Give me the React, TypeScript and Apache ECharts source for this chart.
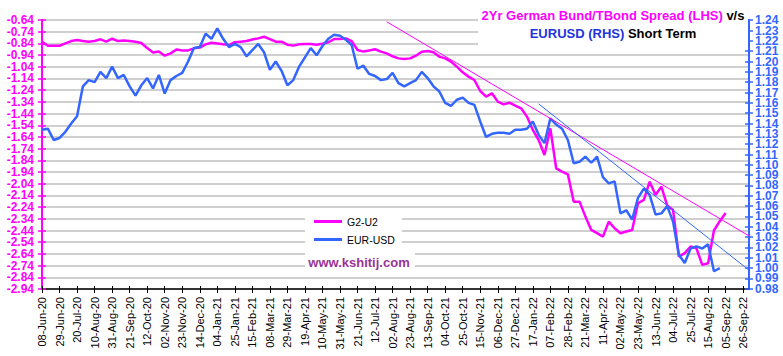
import React, { useEffect, useRef } from 'react';
import * as echarts from 'echarts';

const START_DATE = Date.UTC(2020, 5, 8);
const WEEK_COUNT = 122;
const MONTHS = ['Jan', 'Feb', 'Mar', 'Apr', 'May', 'Jun', 'Jul', 'Aug', 'Sep', 'Oct', 'Nov', 'Dec'];

const categories: string[] = [];
for (let i = 0; i < WEEK_COUNT; i++) {
  const d = new Date(START_DATE + i * 7 * 86400000);
  categories.push(
    `${String(d.getUTCDate()).padStart(2, '0')}-${MONTHS[d.getUTCMonth()]}-${String(d.getUTCFullYear()).slice(2)}`
  );
}

const spreadTicks = [
  -2.94, -2.84, -2.74, -2.64, -2.54, -2.44, -2.34, -2.24, -2.14, -2.04, -1.94, -1.84,
  -1.74, -1.64, -1.54, -1.44, -1.34, -1.24, -1.14, -1.04, -0.94, -0.84, -0.74, -0.64,
];
const eurTicks = [
  0.98, 0.99, 1.0, 1.01, 1.02, 1.03, 1.04, 1.05, 1.06, 1.07, 1.08, 1.09, 1.1, 1.11,
  1.12, 1.13, 1.14, 1.15, 1.16, 1.17, 1.18, 1.19, 1.2, 1.21, 1.22, 1.23, 1.24,
];
// labels are split across two overlaid axes so ECharts does not auto-hide crowded ones
const spreadLabelsA = spreadTicks.filter((_, i) => i % 2 === 0);
const spreadLabelsB = spreadTicks.filter((_, i) => i % 2 === 1);
const eurLabelsA = eurTicks.filter((_, i) => i % 2 === 0);
const eurLabelsB = eurTicks.filter((_, i) => i % 2 === 1);

// G2-U2 : 2Yr German Bund - 2Yr US Treasury spread (weekly readings)
const spreadG2U2 = [
  -0.825, -0.86, -0.86, -0.86, -0.84, -0.82, -0.81, -0.82, -0.825, -0.82,
  -0.805, -0.825, -0.8, -0.82, -0.815, -0.82, -0.825, -0.836, -0.88, -0.917,
  -0.91, -0.945, -0.925, -0.893, -0.9, -0.9, -0.882, -0.876, -0.848, -0.834,
  -0.84, -0.848, -0.854, -0.83, -0.825, -0.82, -0.806, -0.797, -0.783, -0.803,
  -0.825, -0.825, -0.851, -0.859, -0.848, -0.845, -0.845, -0.851, -0.842, -0.83,
  -0.803, -0.803, -0.797, -0.82, -0.896, -0.91, -0.9, -0.89, -0.91, -0.925,
  -0.95, -0.968, -0.973, -0.968, -0.945, -0.911, -0.905, -0.916, -0.953, -0.968,
  -0.996, -1.039, -1.087, -1.124, -1.153, -1.247, -1.295, -1.267, -1.338, -1.361,
  -1.347, -1.372, -1.395, -1.466, -1.58, -1.666, -1.794, -1.566, -1.908, -1.936,
  -1.96, -2.193, -2.193, -2.321, -2.435, -2.463, -2.492, -2.364, -2.421, -2.463,
  -2.449, -2.435, -2.207, -2.178, -2.022, -2.136, -2.065, -2.227, -2.264, -2.663,
  -2.634, -2.577, -2.592, -2.734, -2.72, -2.44, -2.36, -2.29,
];

// EUR-USD (weekly readings)
const eurUsd = [
  1.134, 1.135, 1.124, 1.126, 1.132, 1.14, 1.147, 1.176, 1.182, 1.18,
  1.19, 1.184, 1.195, 1.184, 1.187, 1.176, 1.167, 1.177, 1.184, 1.174,
  1.187, 1.169, 1.182, 1.186, 1.189, 1.2, 1.213, 1.214, 1.227, 1.222,
  1.232, 1.222, 1.214, 1.217, 1.214, 1.205, 1.211, 1.217, 1.209, 1.192,
  1.2, 1.191, 1.177, 1.182, 1.195, 1.204, 1.213, 1.206, 1.215, 1.222,
  1.226, 1.225, 1.221, 1.216, 1.193, 1.196, 1.188, 1.186, 1.182, 1.183,
  1.189, 1.179, 1.176, 1.179, 1.182, 1.19, 1.184, 1.176, 1.171, 1.16,
  1.157, 1.163, 1.165, 1.16, 1.158, 1.142, 1.127, 1.13, 1.131, 1.131,
  1.13, 1.134, 1.134, 1.135, 1.142, 1.129, 1.121, 1.145, 1.139, 1.135,
  1.124, 1.1015, 1.103, 1.108, 1.102, 1.108, 1.088, 1.082, 1.084, 1.053,
  1.056, 1.047, 1.068, 1.077, 1.071, 1.052, 1.053, 1.06, 1.045, 1.013,
  1.005, 1.019, 1.021, 1.019, 1.023, 0.997, 1.0,
];

// trend lines: [week index, value]
const spreadTrend = [
  [59, -0.655],
  [121, -2.486],
];
const eurTrend = [
  [85, 1.159],
  [121, 0.998],
];

const FONT = 'Arial, "Liberation Sans", sans-serif';
const MAGENTA = '#FF00FF';
const BLUE = '#3366FF';

export default function App() {
  const ref = useRef<HTMLDivElement>(null);

  useEffect(() => {
    if (!ref.current) return;
    const chart = echarts.init(ref.current, undefined, { renderer: 'svg' });

    const yLeftBase = {
      type: 'value',
      position: 'left',
      min: -2.9402,
      max: -0.6398,
      scale: true,
    };
    const yRightBase = {
      type: 'value',
      position: 'right',
      min: 0.9798,
      max: 1.2402,
      scale: true,
    };
    const leftLabel = (values: number[]) => ({
      customValues: values,
      showMinLabel: true,
      showMaxLabel: true,
      formatter: (v: number) => v.toFixed(2),
      color: MAGENTA,
      fontWeight: 'bold',
      fontSize: 12,
      fontFamily: FONT,
      margin: 8,
    });
    const rightLabel = (values: number[]) => ({
      customValues: values,
      showMinLabel: true,
      showMaxLabel: true,
      formatter: (v: number) => v.toFixed(2),
      color: BLUE,
      fontWeight: 'bold',
      fontSize: 12,
      fontFamily: FONT,
      margin: 6,
    });

    chart.setOption({
      animation: false,
      backgroundColor: '#ffffff',
      grid: { left: 42, right: 34, top: 20, bottom: 67, containLabel: false },
      legend: {
        data: ['G2-U2', 'EUR-USD'],
        orient: 'vertical',
        left: 305,
        top: 208,
        icon: 'rect',
        itemWidth: 28,
        itemHeight: 3,
        itemGap: 7,
        padding: [8, 7, 5, 9],
        backgroundColor: '#ffffff',
        textStyle: { fontSize: 10.5, color: '#000', fontFamily: FONT, padding: [0, 0, 0, 0] },
        z: 20,
      },
      xAxis: [
        {
          type: 'category',
          data: categories,
          boundaryGap: false,
          position: 'bottom',
          axisLine: { show: true, lineStyle: { color: '#000', width: 1.5 } },
          axisTick: { show: true, interval: 2, length: 4, inside: false, lineStyle: { color: '#000', width: 1 } },
          axisLabel: {
            interval: 2,
            rotate: 90,
            margin: 8,
            fontSize: 11,
            color: '#000',
            fontFamily: FONT,
          },
          splitLine: { show: false },
        },
        {
          type: 'category',
          data: categories,
          boundaryGap: false,
          position: 'bottom',
          axisLine: { show: false },
          axisTick: { show: true, interval: 2, length: 3, inside: true, lineStyle: { color: '#000', width: 1 } },
          axisLabel: { show: false },
          splitLine: { show: false },
        },
      ],
      yAxis: [
        {
          ...yLeftBase,
          axisLine: { show: true, lineStyle: { color: MAGENTA, width: 2 } },
          axisTick: { show: true, length: 4, inside: false, customValues: spreadTicks, lineStyle: { color: MAGENTA, width: 1.5 } },
          axisLabel: leftLabel(spreadLabelsA),
          splitLine: { show: true, lineStyle: { color: '#BFBFBF', width: 1.5 } },
        },
        {
          ...yRightBase,
          axisLine: { show: true, lineStyle: { color: BLUE, width: 2 } },
          axisTick: { show: true, length: 4, inside: false, customValues: eurTicks, lineStyle: { color: BLUE, width: 1.5 } },
          axisLabel: rightLabel(eurLabelsA),
          splitLine: { show: false },
        },
        {
          ...yLeftBase,
          axisLine: { show: false },
          axisTick: { show: true, length: 4, inside: true, customValues: spreadTicks, lineStyle: { color: MAGENTA, width: 1.5 } },
          axisLabel: leftLabel(spreadLabelsB),
          splitLine: { show: false },
        },
        {
          ...yRightBase,
          axisLine: { show: false },
          axisTick: { show: true, length: 4, inside: true, customValues: eurTicks, lineStyle: { color: BLUE, width: 1.5 } },
          axisLabel: rightLabel(eurLabelsB),
          splitLine: { show: false },
        },
      ],
      series: [
        {
          name: 'G2-U2',
          type: 'line',
          yAxisIndex: 0,
          data: spreadG2U2,
          showSymbol: false,
          symbol: 'none',
          color: MAGENTA,
          lineStyle: { color: MAGENTA, width: 2.5 },
          z: 3,
        },
        {
          name: 'EUR-USD',
          type: 'line',
          yAxisIndex: 1,
          data: eurUsd,
          showSymbol: false,
          symbol: 'none',
          color: BLUE,
          lineStyle: { color: BLUE, width: 2.5 },
          z: 4,
        },
        {
          name: 'spreadTrend',
          type: 'line',
          yAxisIndex: 0,
          data: spreadTrend,
          showSymbol: false,
          symbol: 'none',
          lineStyle: { color: MAGENTA, width: 1 },
          z: 5,
        },
        {
          name: 'eurTrend',
          type: 'line',
          yAxisIndex: 1,
          data: eurTrend,
          showSymbol: false,
          symbol: 'none',
          lineStyle: { color: BLUE, width: 1 },
          z: 5,
        },
      ],
      graphic: {
        elements: [
          {
            type: 'rect',
            z: 100,
            shape: { x: 478, y: 0, width: 270, height: 48 },
            style: { fill: '#ffffff' },
          },
          {
            type: 'text',
            z: 101,
            x: 613,
            y: 15,
            style: {
              text: '{m|2Yr German Bund/TBond Spread (LHS)}{k| v/s}',
              align: 'center',
              verticalAlign: 'middle',
              rich: {
                m: { fill: MAGENTA, fontSize: 13, fontWeight: 'bold', fontFamily: FONT },
                k: { fill: '#000000', fontSize: 13, fontWeight: 'bold', fontFamily: FONT },
              },
            },
          },
          {
            type: 'text',
            z: 101,
            x: 613,
            y: 33,
            style: {
              text: '{b|EURUSD (RHS)}{k| Short Term}',
              align: 'center',
              verticalAlign: 'middle',
              rich: {
                b: { fill: '#2233DD', fontSize: 13, fontWeight: 'bold', fontFamily: FONT },
                k: { fill: '#000000', fontSize: 13, fontWeight: 'bold', fontFamily: FONT },
              },
            },
          },
          {
            type: 'rect',
            z: 100,
            shape: { x: 305, y: 250, width: 110, height: 23 },
            style: { fill: '#ffffff' },
          },
          {
            type: 'text',
            z: 101,
            x: 359,
            y: 262,
            style: {
              text: 'www.kshitij.com',
              align: 'center',
              verticalAlign: 'middle',
              fill: '#993399',
              fontSize: 13,
              fontWeight: 'bold',
              fontFamily: FONT,
            },
          },
        ],
      },
    });

    return () => chart.dispose();
  }, []);

  return <div ref={ref} style={{ width: 783, height: 356, position: 'absolute', left: 0, top: 0 }} />;
}
